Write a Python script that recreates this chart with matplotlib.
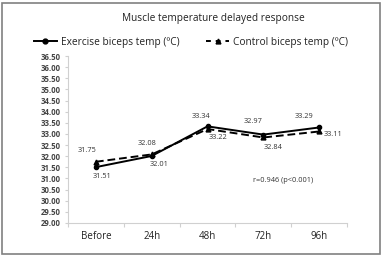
import matplotlib
matplotlib.use("Agg")
import matplotlib.pyplot as plt
from matplotlib.lines import Line2D
from matplotlib.patches import Rectangle
import numpy as np

plt.rcParams['font.family'] = ['Open Sans', 'DejaVu Sans']

categories = ["Before", "24h", "48h", "72h", "96h"]
exercise = [31.51, 32.01, 33.34, 32.97, 33.29]
control = [31.75, 32.08, 33.22, 32.84, 33.11]
yticks = np.arange(29.0, 36.51, 0.5)
title = "Muscle temperature delayed response"
ex_label = "Exercise biceps temp (\u00baC)"
ct_label = "Control biceps temp (\u00baC)"
note = "r=0.946 (p<0.001)"

# label offsets in pixels (styling)
ex_off = [(6, -9), (7, -9), (-7, 10), (-10, 13), (-15, 11)]
ct_off = [(-9, 11), (-5, 11), (11, -8), (10, -10), (14, -3)]

fig = plt.figure(figsize=(3.83, 2.56), dpi=100)
ax = fig.add_axes([68/383, 1-223/256, (347-68)/383, (223-56)/256])

x = np.arange(len(categories))
ax.plot(x, exercise, '-', color='black', lw=1.4, marker='o', ms=3)
ax.plot(x, control, '--', color='black', lw=1.4, marker='^', ms=3.5, dashes=(4, 2))

for xi, v, off in zip(x, exercise, ex_off):
    ax.annotate(f"{v:.2f}", (xi, v), xytext=off, textcoords='offset pixels',
                ha='center', va='center', fontsize=5.3, color='#333333')
for xi, v, off in zip(x, control, ct_off):
    ax.annotate(f"{v:.2f}", (xi, v), xytext=off, textcoords='offset pixels',
                ha='center', va='center', fontsize=5.3, color='#333333')

ax.set_xlim(-0.5, len(categories) - 0.5)
ax.set_ylim(29.0, 36.5)
ax.set_yticks(yticks)
ax.set_yticklabels([f"{t:.2f}" for t in yticks], fontsize=5.6, fontweight='bold', color='#444444')
ax.set_xticks(x)
ax.set_xticklabels(categories, fontsize=7, color='#222222')
ax.set_xticks(np.arange(-0.5, len(categories)), minor=True)
ax.tick_params(axis='x', which='major', length=0, pad=6)
ax.tick_params(axis='x', which='minor', length=3, color='#d0d0d0', width=0.8)
ax.tick_params(axis='y', length=2.5, color='#d0d0d0', width=0.8, pad=3)
for s in ['top', 'right']:
    ax.spines[s].set_visible(False)
for s in ['left', 'bottom']:
    ax.spines[s].set_color('#d0d0d0')
    ax.spines[s].set_linewidth(0.8)

fig.text(283/383, 1-181/256, note, ha='center', va='center',
         fontsize=5.3, color='#333333')

fig.text(213/383, 1-19/256, title, ha='center', va='center', fontsize=7.3, color='#222222')

h1 = Line2D([], [], color='black', lw=1.4, marker='o', ms=3.5)
h2 = Line2D([], [], color='black', lw=1.4, ls='--', marker='^', ms=3.5, dashes=(2.5, 2.5))
fig.legend([h1, h2], [ex_label, ct_label], loc='center', bbox_to_anchor=(191/383, 1-42/256),
           ncol=2, frameon=False, fontsize=7.3, handlelength=2.3, handletextpad=0.4,
           columnspacing=2.6, labelcolor='#222222')

fig.patches.append(Rectangle((2/383, 2/256), 378/383, 251/256, transform=fig.transFigure,
                             fill=False, edgecolor='#808080', lw=1.2))

fig.savefig("out.png", dpi=100)
